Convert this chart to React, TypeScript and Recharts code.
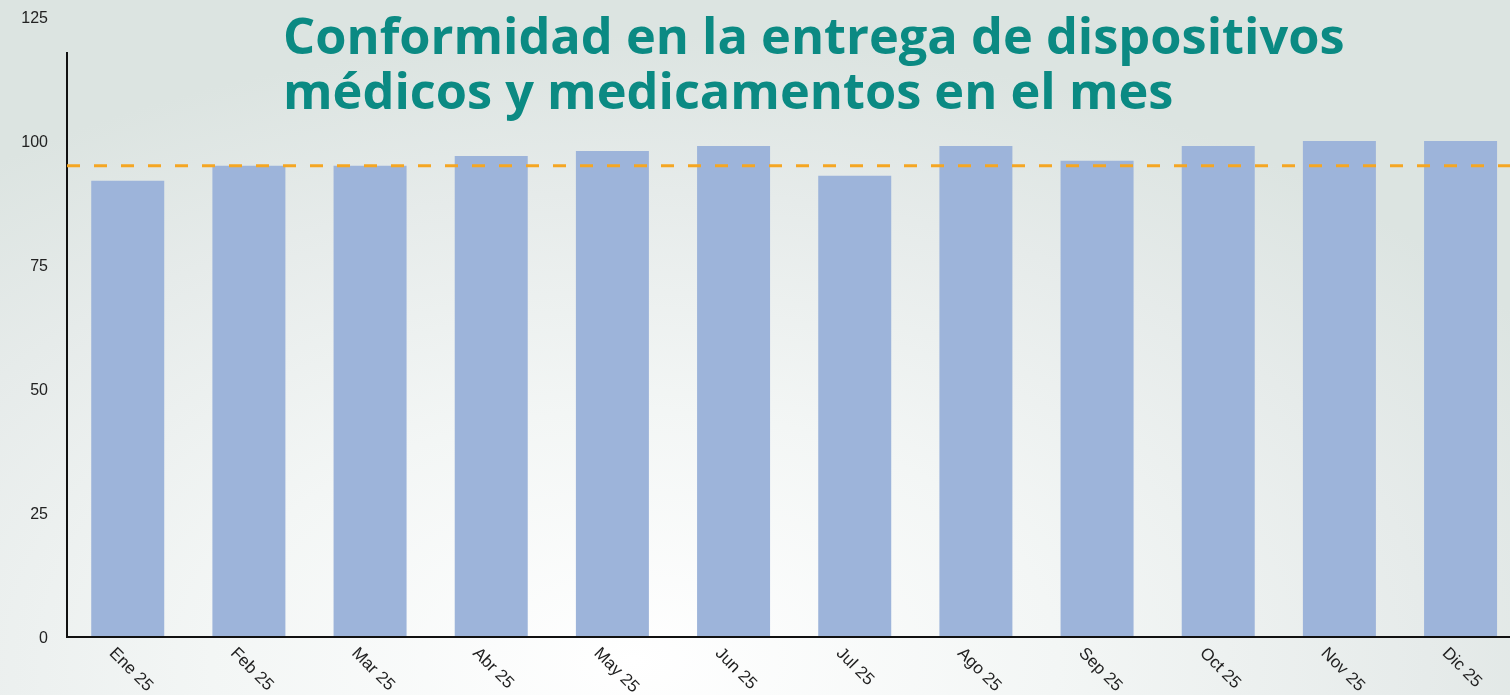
import { BarChart, Bar, XAxis, YAxis, ReferenceLine } from "recharts";

const months = ["Ene 25", "Feb 25", "Mar 25", "Abr 25", "May 25", "Jun 25", "Jul 25", "Ago 25", "Sep 25", "Oct 25", "Nov 25", "Dic 25"];
const conformidad = [92, 95, 95, 97, 98, 99, 93, 99, 96, 99, 100, 100];
const meta = 95;
const yTicks = [0, 25, 50, 75, 100, 125];

const data = months.map((m, i) => ({ mes: m, valor: conformidad[i] }));

function MonthTick(props: any) {
  const { x, y, payload } = props;
  return (
    <text
      x={0}
      y={0}
      transform={`translate(${x - 19}, ${y + 9}) rotate(45)`}
      textAnchor="start"
      fill="#222"
      fontSize={17}
      fontFamily="Liberation Sans, Arial, sans-serif"
    >
      {payload.value}
    </text>
  );
}

const titleLine = {
  position: "absolute" as const,
  left: 283,
  height: 52,
  fontFamily: "Open Sans, sans-serif",
  fontWeight: 700,
  fontSize: 50.5,
  lineHeight: "52px",
  color: "#0b8a83",
  whiteSpace: "nowrap" as const,
};

export default function App() {
  return (
    <div
      style={{
        position: "fixed",
        top: 0,
        left: 0,
        width: 1510,
        height: 695,
        overflow: "hidden",
        background:
          "radial-gradient(ellipse 70% 90% at 42% 95%, #ffffff 0%, #f3f6f5 40%, #e6ebea 75%, #dce4e1 100%)",
        fontFamily: "Liberation Sans, Arial, sans-serif",
      }}
    >
      <div style={{ ...titleLine, top: 9 }}>Conformidad en la entrega de dispositivos</div>
      <div style={{ ...titleLine, top: 64 }}>médicos y medicamentos en el mes</div>
      <div
        style={{
          position: "absolute",
          left: 66,
          top: 52,
          width: 2,
          height: 586,
          background: "#111",
        }}
      />
      <div style={{ position: "absolute", left: 0, top: 0 }}>
        <BarChart
          width={1521}
          height={695}
          data={data}
          margin={{ top: 17, right: 0, bottom: 0, left: 0 }}
          barCategoryGap="20%"
        >
          <XAxis
            dataKey="mes"
            height={58}
            tickLine={false}
            axisLine={{ stroke: "#111", strokeWidth: 2 }}
            tick={<MonthTick />}
            interval={0}
          />
          <YAxis
            width={67}
            domain={[0, 125]}
            ticks={yTicks}
            axisLine={false}
            tickLine={false}
            tickSize={17}
            tick={{ fill: "#222", fontSize: 16, fontFamily: "Liberation Sans, Arial, sans-serif" }}
          />
          <Bar dataKey="valor" fill="#9db4da" isAnimationActive={false} />
          <ReferenceLine
            y={meta}
            stroke="#f5a623"
            strokeWidth={3}
            strokeDasharray="13 14"
          />
        </BarChart>
      </div>
    </div>
  );
}
